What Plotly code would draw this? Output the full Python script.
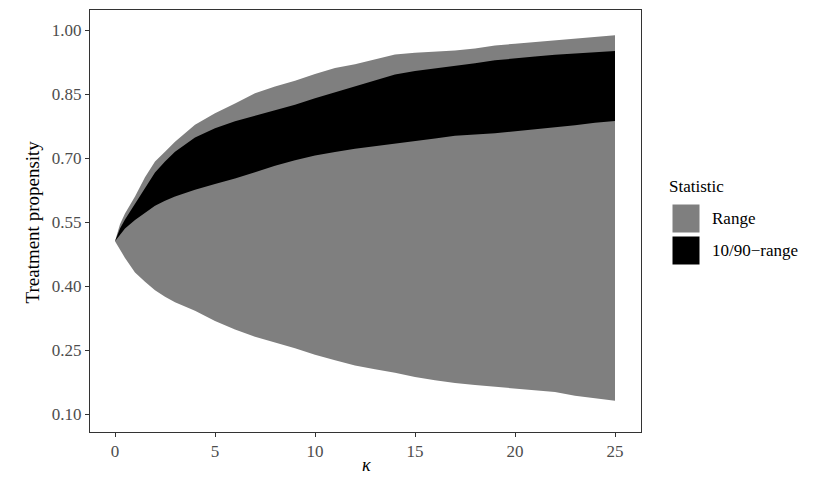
import plotly.graph_objects as go

# kappa grid and the four statistics
kappa = [0, 0.25, 0.5, 1, 1.5, 2, 2.5, 3, 4, 5, 6, 7, 8, 9, 10, 11, 12,
         13, 14, 15, 16, 17, 18, 19, 20, 21, 22, 23, 24, 25]
p_max = [0.505, 0.545, 0.570, 0.610, 0.655, 0.692, 0.715, 0.738, 0.778, 0.805,
         0.828, 0.852, 0.868, 0.881, 0.897, 0.911, 0.920, 0.932, 0.943, 0.947,
         0.950, 0.952, 0.957, 0.964, 0.968, 0.972, 0.976, 0.980, 0.985, 0.988]
p_q90 = [0.505, 0.535, 0.556, 0.593, 0.630, 0.666, 0.692, 0.715, 0.748, 0.770,
         0.786, 0.799, 0.812, 0.825, 0.840, 0.854, 0.868, 0.882, 0.896, 0.904,
         0.910, 0.915, 0.922, 0.929, 0.934, 0.938, 0.942, 0.945, 0.949, 0.951]
p_q10 = [0.505, 0.520, 0.535, 0.555, 0.571, 0.588, 0.600, 0.610, 0.626, 0.639,
         0.652, 0.667, 0.682, 0.695, 0.706, 0.714, 0.722, 0.729, 0.735, 0.740,
         0.746, 0.752, 0.755, 0.758, 0.762, 0.767, 0.772, 0.777, 0.783, 0.787]
p_min = [0.505, 0.485, 0.466, 0.432, 0.410, 0.390, 0.375, 0.362, 0.342, 0.318,
         0.298, 0.281, 0.268, 0.254, 0.239, 0.226, 0.214, 0.205, 0.197, 0.187,
         0.179, 0.173, 0.168, 0.163, 0.159, 0.156, 0.152, 0.143, 0.137, 0.131]

y_ticks = [0.10, 0.25, 0.40, 0.55, 0.70, 0.85, 1.00]
x_ticks = [0, 5, 10, 15, 20, 25]

stat_names = ["Range", "10/90\u2212range"]
stat_colors = ["#7F7F7F", "#000000"]

FONT = "Liberation Serif, DejaVu Serif, serif"

# the page body adds an 8px offset; panel box in screen pixels
OFF = 8
PL, PR, PT, PB = 90, 641, 10, 432
PW, PH = PR - PL, PB - PT


def px(x):
    return (x - PL) / PW


def py(y):
    return (PB - y) / PH


def band(lo, hi, color, name):
    return go.Scatter(
        x=kappa + kappa[::-1],
        y=hi + lo[::-1],
        fill="toself",
        fillcolor=color,
        line=dict(width=0, color=color),
        mode="lines",
        name=name,
        showlegend=False,
        hoverinfo="skip",
    )


fig = go.Figure()
fig.add_trace(band(p_min, p_max, stat_colors[0], stat_names[0]))
fig.add_trace(band(p_q10, p_q90, stat_colors[1], stat_names[1]))

axis = dict(
    showgrid=False,
    zeroline=False,
    showline=True,
    mirror=True,
    linecolor="#333333",
    linewidth=1,
    ticks="outside",
    ticklen=4,
    tickcolor="#333333",
    automargin=False,
    tickfont=dict(family=FONT, size=17, color="#4D4D4D"),
)

fig.update_layout(
    width=830,
    height=485,
    paper_bgcolor="white",
    plot_bgcolor="white",
    margin=dict(l=PL - OFF, r=830 + OFF - PR, t=PT - OFF, b=485 + OFF - PB),
    showlegend=False,
    font=dict(family=FONT, color="black"),
    xaxis=dict(axis, range=[-1.25, 26.3], tickvals=x_ticks),
    yaxis=dict(axis, range=[0.058, 1.047], tickvals=y_ticks, tickformat=".2f"),
)

# axis titles
fig.add_annotation(xref="paper", yref="paper", x=px(366), y=py(477),
                   text="<i>\u03ba</i>", showarrow=False,
                   font=dict(family=FONT, size=18, color="black"))
fig.add_annotation(xref="paper", yref="paper", x=px(19), y=py(222),
                   text="Treatment propensity", textangle=-90, showarrow=False,
                   font=dict(family=FONT, size=19, color="black"))

# legend drawn by hand to get the large ggplot-style keys
fig.add_annotation(xref="paper", yref="paper", x=px(667), y=py(187),
                   text="Statistic", showarrow=False, xanchor="left", yanchor="middle",
                   font=dict(family=FONT, size=17, color="black"))
for i, (nm, col) in enumerate(zip(stat_names, stat_colors)):
    top = 204 + i * 32
    fig.add_shape(type="rect", xref="paper", yref="paper",
                  x0=px(672), x1=px(700), y0=py(top), y1=py(top + 29),
                  fillcolor=col, line=dict(color="white", width=1))
    fig.add_annotation(xref="paper", yref="paper", x=px(710),
                       y=py(top + 14.5), text=nm, showarrow=False,
                       xanchor="left", yanchor="middle",
                       font=dict(family=FONT, size=17, color="black"))

fig.write_html("out.html")
